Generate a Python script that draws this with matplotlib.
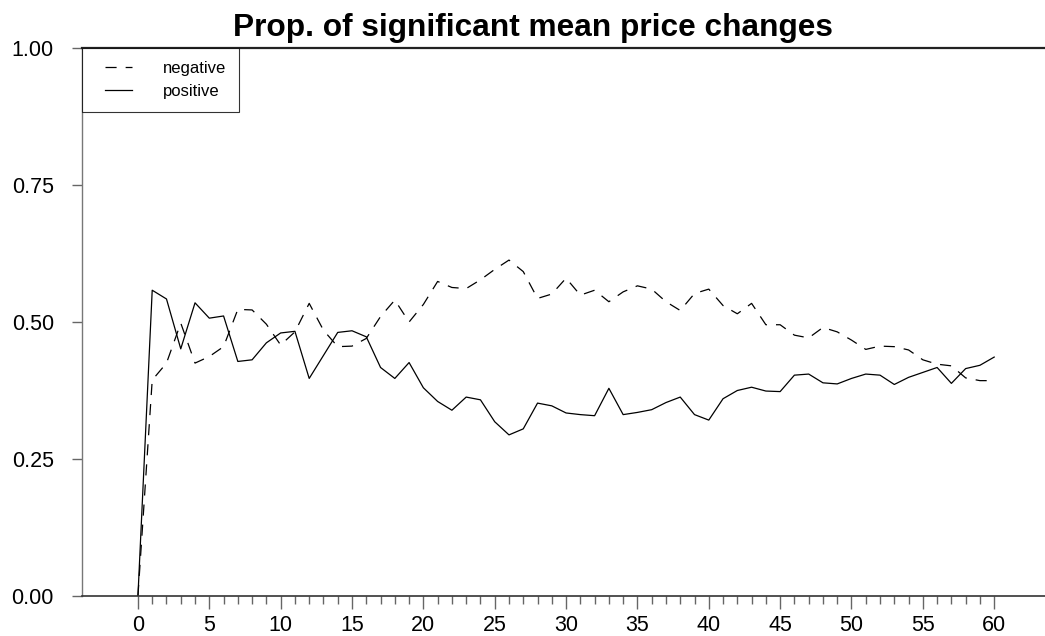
import matplotlib
matplotlib.use("Agg")
import matplotlib.pyplot as plt
from matplotlib.legend_handler import HandlerLine2D
import numpy as np

plt.rcParams['font.family'] = ['Liberation Sans', 'DejaVu Sans']
plt.rcParams['lines.scale_dashes'] = False

lags = list(range(0, 61))

negative = [0.000, 0.394, 0.425, 0.498, 0.425, 0.437, 0.455, 0.523, 0.522, 0.496,
            0.458, 0.482, 0.534, 0.485, 0.455, 0.456, 0.470, 0.510, 0.540, 0.500,
            0.532, 0.574, 0.563, 0.561, 0.577, 0.596, 0.613, 0.592, 0.543, 0.551,
            0.580, 0.549, 0.558, 0.537, 0.555, 0.566, 0.560, 0.537, 0.521, 0.552,
            0.560, 0.530, 0.515, 0.534, 0.495, 0.495, 0.476, 0.471, 0.490, 0.482,
            0.467, 0.450, 0.456, 0.455, 0.449, 0.431, 0.423, 0.420, 0.398, 0.393,
            0.393]

positive = [0.000, 0.558, 0.542, 0.451, 0.535, 0.507, 0.511, 0.428, 0.431, 0.462,
            0.480, 0.483, 0.397, 0.439, 0.481, 0.484, 0.473, 0.417, 0.397, 0.426,
            0.380, 0.355, 0.339, 0.363, 0.358, 0.318, 0.294, 0.305, 0.352, 0.347,
            0.334, 0.331, 0.329, 0.379, 0.331, 0.335, 0.340, 0.353, 0.363, 0.331,
            0.321, 0.360, 0.375, 0.381, 0.374, 0.373, 0.403, 0.405, 0.389, 0.387,
            0.397, 0.405, 0.403, 0.386, 0.399, 0.408, 0.417, 0.388, 0.415, 0.421,
            0.436]

series_labels = ["negative", "positive"]
title = "Prop. of significant mean price changes"
yticks = [0.00, 0.25, 0.50, 0.75, 1.00]
xticks_major = list(range(0, 61, 5))
xticks_minor = list(range(0, 61))


class ShiftedLine(HandlerLine2D):
    """Legend line handler that leaves a blank lead-in before the sample."""

    def __init__(self, shift, **kw):
        super().__init__(**kw)
        self.shift = shift

    def create_artists(self, legend, orig_handle, xdescent, ydescent, width,
                       height, fontsize, trans):
        return super().create_artists(legend, orig_handle,
                                      xdescent - self.shift, ydescent,
                                      width - self.shift, height, fontsize, trans)


W, H = 1045, 636
fig = plt.figure(figsize=(W / 100, H / 100), dpi=100)
ax = fig.add_axes([82 / W, 40 / H, (W - 82) / W, 548 / H])

l1, = ax.plot(lags, negative, color='black', linewidth=0.9, dashes=(8, 6.5),
              label=series_labels[0])
l2, = ax.plot(lags, positive, color='black', linewidth=0.9, label=series_labels[1])

ax.set_xlim(-3.92, 63.56)
ax.set_ylim(0, 1)
ax.set_xticks(xticks_major)
ax.set_xticks(xticks_minor, minor=True)
ax.set_yticks(yticks)
ax.set_yticklabels([f"{v:.2f}" for v in yticks])

ax.tick_params(axis='both', which='major', labelsize=15.5, color='#666666',
               width=1.0, direction='out')
ax.tick_params(axis='y', which='major', length=7.2, pad=13)
ax.tick_params(axis='x', which='major', length=9.5, pad=4)
ax.tick_params(axis='x', which='minor', length=5.5, color='#666666', width=1.0)

ax.spines['right'].set_visible(False)
ax.spines['left'].set_color('#777777')
ax.spines['left'].set_linewidth(1.0)
ax.spines['top'].set_color('#222222')
ax.spines['top'].set_linewidth(1.6)
ax.spines['bottom'].set_color('#333333')
ax.spines['bottom'].set_linewidth(1.2)

handler = ShiftedLine(7.2)
leg = ax.legend(handles=[l1, l2], loc='upper left', bbox_to_anchor=(0, 1),
                borderaxespad=0, fontsize=12, frameon=True, fancybox=False,
                handlelength=2.22, handletextpad=1.85, borderpad=0.78,
                labelspacing=0.47, edgecolor='black',
                handler_map={l1: handler, l2: handler})
leg.get_frame().set_linewidth(0.8)

fig.text(533 / W, 1 - 28 / H, title, ha='center', va='center',
         fontsize=22.8, fontweight='bold')

fig.savefig("out.png", dpi=100)
